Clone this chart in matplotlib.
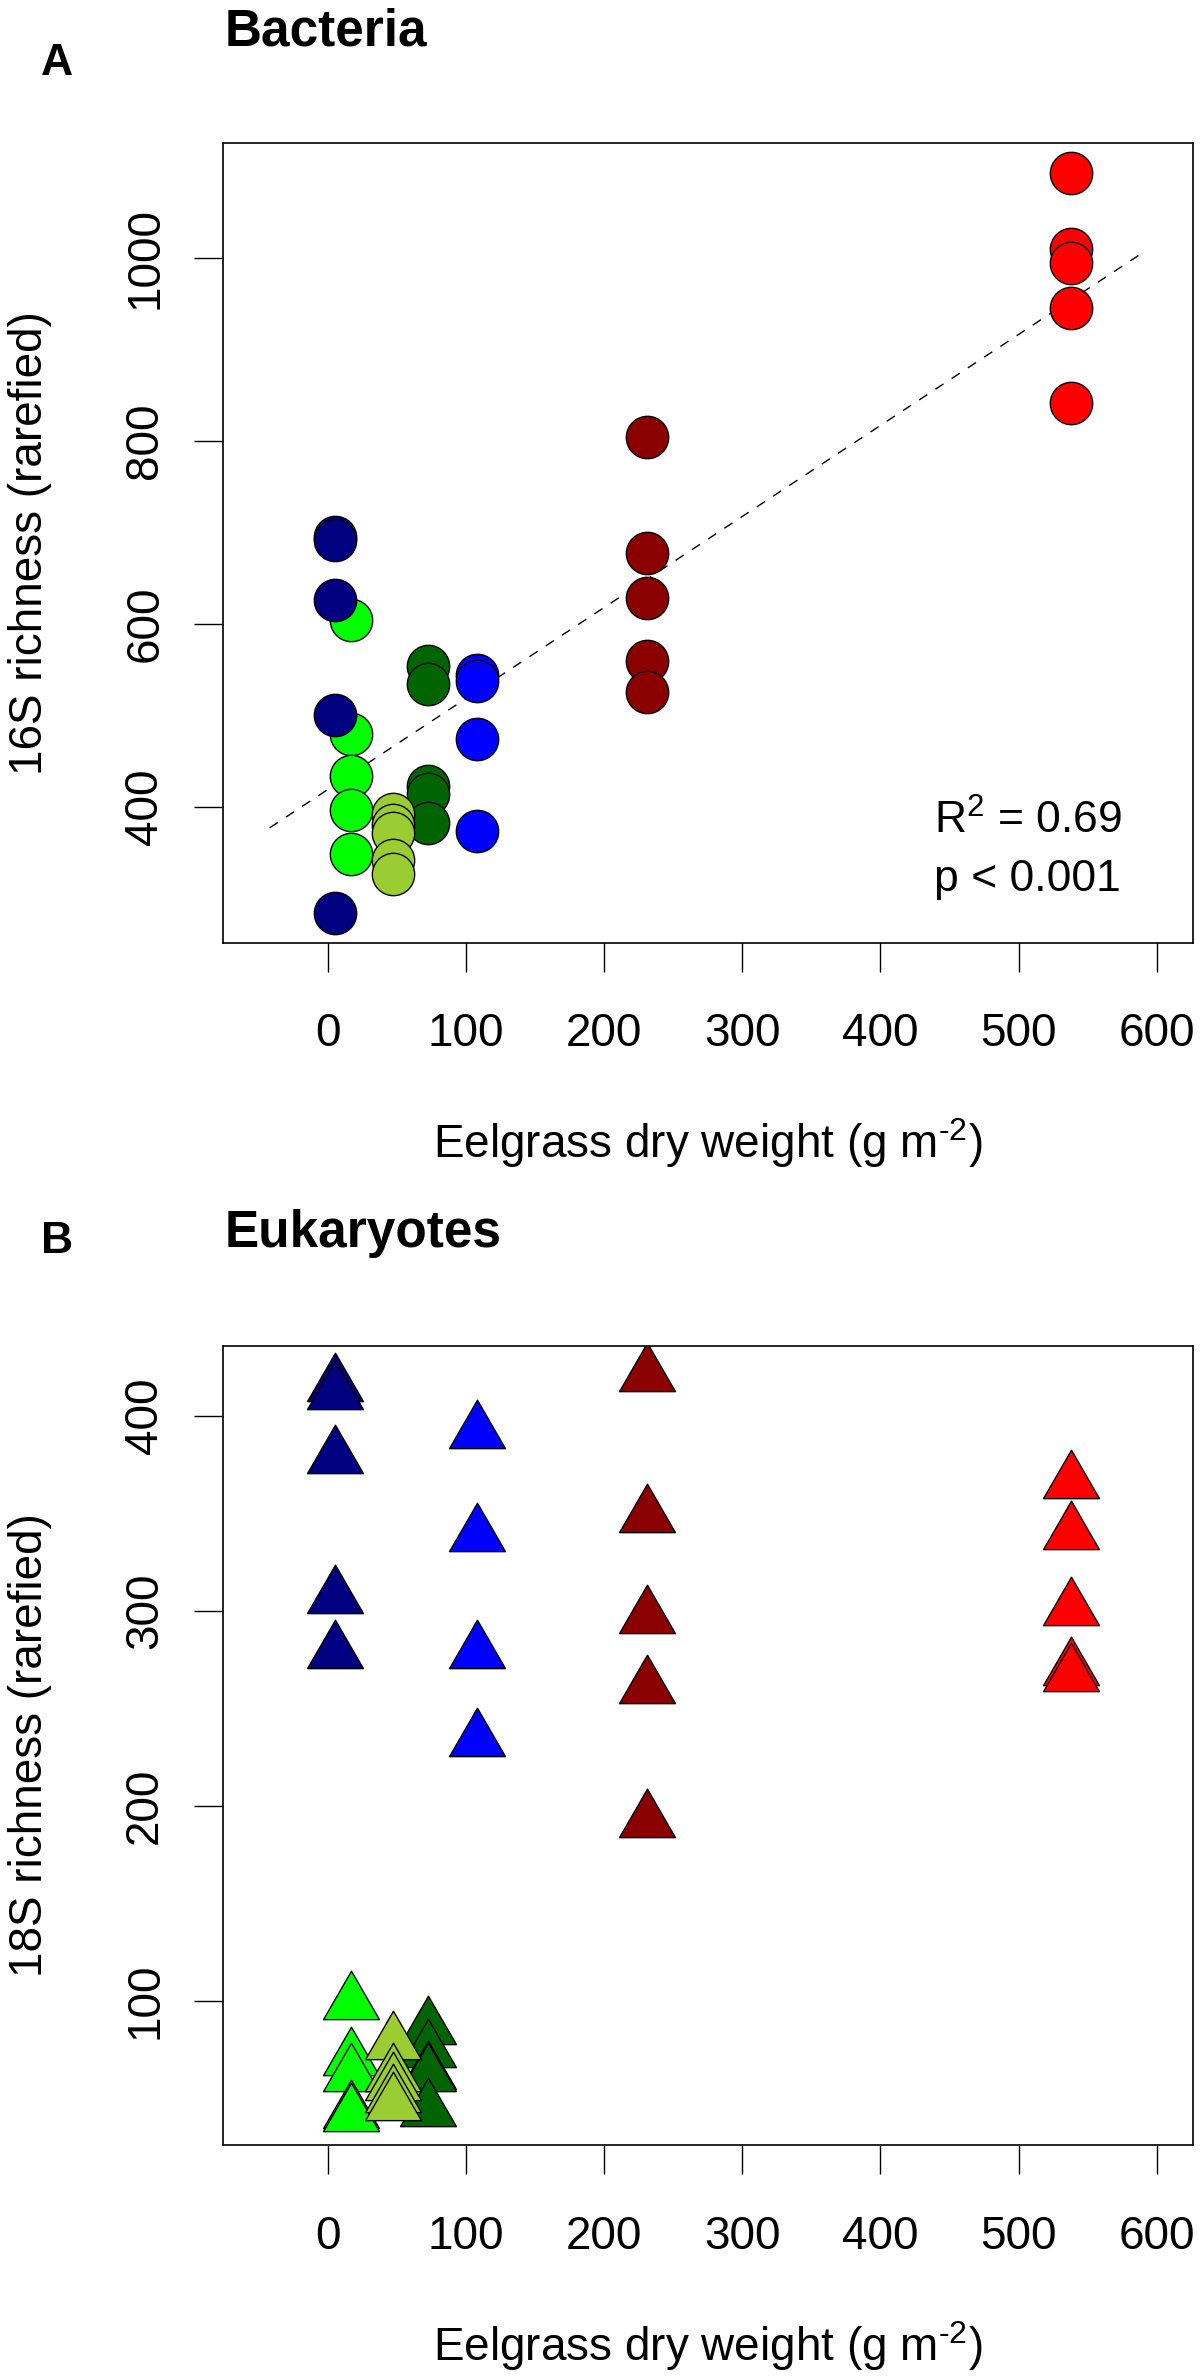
import numpy as np
import matplotlib
matplotlib.use('Agg')
import matplotlib.pyplot as plt
from matplotlib.path import Path

plt.rcParams['font.family'] = ['Liberation Sans', 'DejaVu Sans']
plt.rcParams['mathtext.fontset'] = 'custom'
plt.rcParams['mathtext.rm'] = 'Liberation Sans'
plt.rcParams['mathtext.default'] = 'rm'

# sites (eelgrass dry weight, g m-2) and their colours
site_names = ['navy', 'lime', 'yellowgreen', 'darkgreen', 'blue', 'darkred', 'red']
site_x = [5, 17, 47.5, 72.5, 108, 231, 538]
site_colors = ['#000080', '#00FF00', '#9ACD32', '#006400', '#0000FF', '#8B0000', '#FF0000']

# 16S richness (rarefied), per site
rich16 = {
    'navy': [695, 692, 626, 500, 284],
    'lime': [604, 480, 434, 397, 349],
    'yellowgreen': [392, 380, 372, 342, 327],
    'darkgreen': [554, 534, 423, 414, 382],
    'blue': [544, 538, 474, 374],
    'darkred': [804, 678, 628, 560, 526],
    'red': [1093, 1010, 994, 945, 841],
}

# 18S richness (rarefied), per site
rich18 = {
    'navy': [416, 412, 379, 307, 279],
    'lime': [99, 70, 62, 43, 41],
    'yellowgreen': [78, 62, 57, 51, 47],
    'darkgreen': [86, 74, 63, 62, 44],
    'blue': [392, 339, 279, 234],
    'darkred': [421, 349, 297, 261, 192],
    'red': [366, 340, 301, 270, 267],
}

# regression line for panel A
fit_intercept = 419
fit_slope = 0.995
fit_x = [-42, 588]

draw_order = ['darkred', 'red', 'blue', 'lime', 'darkgreen', 'yellowgreen', 'navy']
xticks = [0, 100, 200, 300, 400, 500, 600]

# R-style triangle (pch 24), centred on its centroid
tri = Path([(0, 1), (-np.sqrt(3) / 2, -0.5), (np.sqrt(3) / 2, -0.5), (0, 1)],
           [Path.MOVETO, Path.LINETO, Path.LINETO, Path.CLOSEPOLY])

W, H = 1202, 2379
fig = plt.figure(figsize=(W / 100, H / 100), dpi=100)


def r_lim(vals):
    lo, hi = min(vals), max(vals)
    r = hi - lo
    return lo - 0.04 * r, hi + 0.04 * r


def panel(top_px, data, marker, ms, yticks):
    left, right, height = 222.7, 1192.8, 799.4
    ax = fig.add_axes([left / W, 1 - (top_px + height) / H, (right - left) / W, height / H])
    for name in draw_order:
        i = site_names.index(name)
        ys = data[name]
        ax.scatter([site_x[i]] * len(ys), ys, s=ms ** 2, marker=marker,
                   c=site_colors[i], edgecolors='black', linewidths=1.0, zorder=3)
    ax.set_xlim(r_lim([-50, 600]))
    allv = [v for vs in data.values() for v in vs]
    ax.set_ylim(r_lim(allv))
    ax.set_xticks(xticks)
    ax.set_yticks(yticks)
    for sp in ax.spines.values():
        sp.set_linewidth(1.2)
    ax.tick_params(axis='both', direction='out', length=21, width=1.0, labelsize=33)
    ax.tick_params(axis='x', pad=29)
    ax.tick_params(axis='y', pad=19)
    for lab in ax.get_yticklabels():
        lab.set_rotation(90)
        lab.set_va('center')
        lab.set_ha('right')
    ax.set_xlabel(r'Eelgrass dry weight (g m$^{\text{-2}}$)', fontsize=33)
    ax.xaxis.set_label_coords(0.5, -215.5 / height)
    ax.xaxis.label.set_va('baseline')
    return ax


axA = panel(143.3, rich16, 'o', 30.5, [400, 600, 800, 1000])
axA.plot(fit_x, [fit_intercept + fit_slope * x for x in fit_x], color='black',
         lw=1.0, dashes=(7, 7), zorder=2)
axA.set_ylabel('16S richness (rarefied)', fontsize=33)
axA.yaxis.set_label_coords(-0.199, 0.5)
axA.yaxis.label.set_va('center')
axA.text(0.733, 0.1366, r'R$^{2}$ = 0.69', transform=axA.transAxes,
         fontsize=32, ha='left', va='baseline')
axA.text(0.733, 0.0647, 'p < 0.001', transform=axA.transAxes,
         fontsize=32, ha='left', va='baseline')

axB = panel(1345.7, rich18, tri, 46.5, [100, 200, 300, 400])
axB.set_ylabel('18S richness (rarefied)', fontsize=33)
axB.yaxis.set_label_coords(-0.199, 0.5)
axB.yaxis.label.set_va('center')

fig.text(225 / W, 1 - 45 / H, 'Bacteria', fontsize=37, fontweight='bold',
         ha='left', va='baseline')
fig.text(40.7 / W, 1 - 75 / H, 'A', fontsize=32, fontweight='bold',
         ha='left', va='baseline')
fig.text(225 / W, 1 - 1246.7 / H, 'Eukaryotes', fontsize=37, fontweight='bold',
         ha='left', va='baseline')
fig.text(40.7 / W, 1 - 1253.3 / H, 'B', fontsize=32, fontweight='bold',
         ha='left', va='baseline')

fig.savefig('out.png', dpi=100, facecolor='white')
